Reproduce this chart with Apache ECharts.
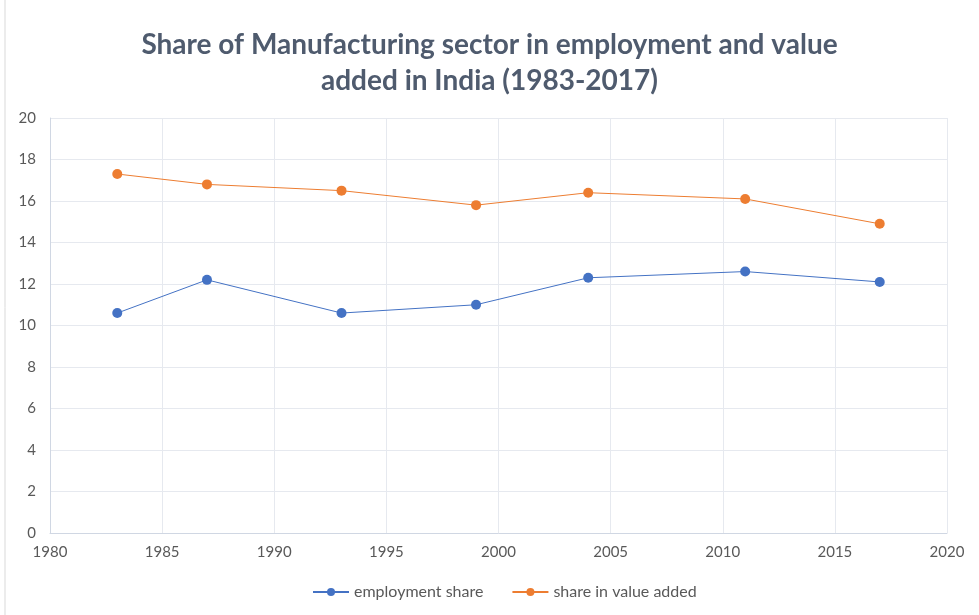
<!DOCTYPE html>
<html><head><meta charset="utf-8">
<script src="https://cdn.jsdelivr.net/npm/echarts@6/dist/echarts.min.js"></script>
<style>html,body{margin:0;padding:0;background:#fff}#c{width:979px;height:615px}</style>
</head><body><div id="c"></div>
<script>
const years = [1983, 1987, 1993, 1999, 2004, 2011, 2017];
const employmentShare = [10.6, 12.2, 10.6, 11.0, 12.3, 12.6, 12.1];
const valueAddedShare = [17.3, 16.8, 16.5, 15.8, 16.4, 16.1, 14.9];
const seriesNames = ['employment share', 'share in value added'];
const titleText = 'Share of Manufacturing sector in employment and value\nadded in India (1983-2017)';

const chart = echarts.init(document.getElementById('c'));
const font = 'Lato, "Open Sans", sans-serif';
chart.setOption({
  animation: false,
  title: {
    text: titleText, left: 'center', top: 22,
    textStyle: {fontFamily: font, fontWeight: 'bold', fontSize: 28, color: '#4f5b6e', lineHeight: 36}
  },
  graphic: [{type: 'line', shape: {x1: 5, y1: 0, x2: 5, y2: 615}, style: {stroke: '#d9d9d9', lineWidth: 1}}],
  legend: {
    bottom: 10, left: 307, itemGap: 28, itemWidth: 36, itemHeight: 10,
    textStyle: {fontFamily: font, fontSize: 16, color: '#595959'}
  },
  grid: {left: 50, right: 32, top: 118, bottom: 82},
  xAxis: {
    type: 'value', min: 1980, max: 2020, interval: 5,
    axisLine: {show: true, lineStyle: {color: '#d0d7e3'}},
    axisTick: {show: false},
    splitLine: {show: true, lineStyle: {color: '#e6e9ef'}},
    axisLabel: {fontFamily: font, fontSize: 15, color: '#595959', margin: 12, formatter: v => String(v)}
  },
  yAxis: {
    type: 'value', min: 0, max: 20, interval: 2,
    axisLine: {show: true, lineStyle: {color: '#d0d7e3'}},
    axisTick: {show: false},
    splitLine: {show: true, lineStyle: {color: '#e6e9ef'}},
    axisLabel: {fontFamily: font, fontSize: 15, color: '#595959', margin: 14}
  },
  series: [
    {name: seriesNames[0], type: 'line', data: years.map((y, i) => [y, employmentShare[i]]),
     symbol: 'circle', symbolSize: 10, itemStyle: {color: '#4472C4'}, lineStyle: {width: 1, color: '#4472C4'}},
    {name: seriesNames[1], type: 'line', data: years.map((y, i) => [y, valueAddedShare[i]]),
     symbol: 'circle', symbolSize: 10, itemStyle: {color: '#ED7D31'}, lineStyle: {width: 1, color: '#ED7D31'}}
  ]
});
</script></body></html>
